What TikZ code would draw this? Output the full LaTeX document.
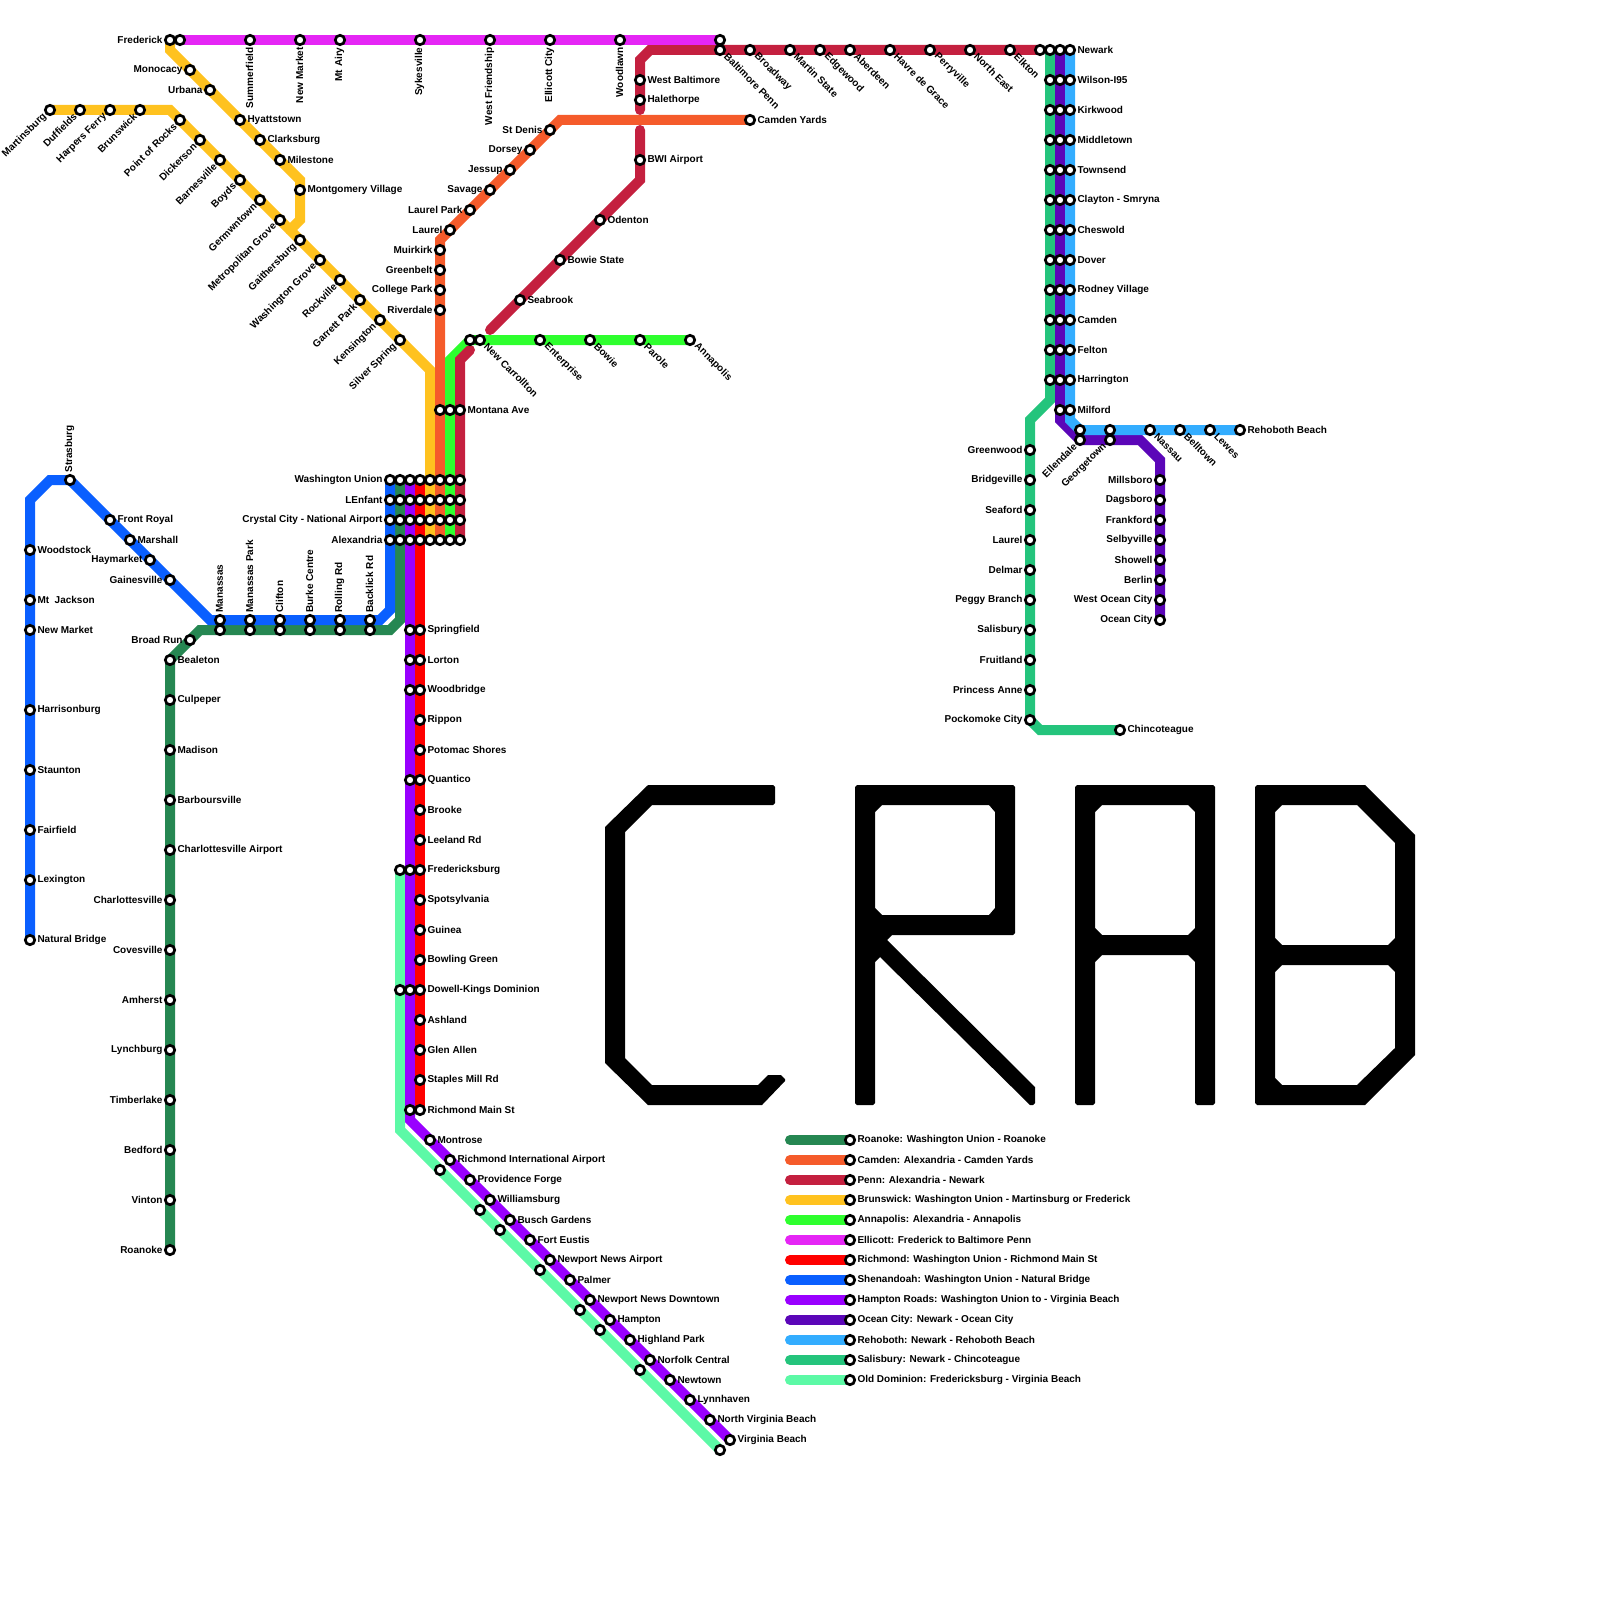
\documentclass[tikz,border=0pt]{standalone}
\usepackage{fontspec}
\setmainfont{Liberation Sans}
\pgfdeclarelayer{lines}
\pgfsetlayers{lines,main}
\definecolor{cRoanoke}{HTML}{268752}
\definecolor{cCamden}{HTML}{F55B2B}
\definecolor{cPenn}{HTML}{C4203F}
\definecolor{cBrunswick}{HTML}{FFC21F}
\definecolor{cAnnapolis}{HTML}{2EFF2E}
\definecolor{cEllicott}{HTML}{E526F5}
\definecolor{cRichmond}{HTML}{FF0000}
\definecolor{cShenandoah}{HTML}{0A5FFF}
\definecolor{cHampton}{HTML}{9900FF}
\definecolor{cOcean}{HTML}{5B06B8}
\definecolor{cRehoboth}{HTML}{33ADFF}
\definecolor{cSalisbury}{HTML}{24C47C}
\definecolor{cOldDom}{HTML}{5CF9A6}
\tikzset{
  stn/.style={circle,draw=black,fill=white,line width=2.7pt,minimum size=9.4pt,inner sep=0pt,outer sep=0pt},
  lbl/.style={inner sep=0pt,outer sep=0pt,font=\fontsize{10}{12}\selectfont\bfseries,text=black},
  rail/.style={line width=10pt,line cap=round,line join=miter},
  letter/.style={fill=black,even odd rule}
}
\newcommand\StnP[3]{\node[stn] (#1) at (#2,#3) {};}
\newcommand\StnR[4]{\StnP{#1}{#2}{#3}\node[lbl,anchor=west] (#1l) at ([xshift=7.5pt,yshift=0pt]#1.center) {#4};}
\newcommand\StnL[4]{\StnP{#1}{#2}{#3}\node[lbl,anchor=east] (#1l) at ([xshift=-7.5pt,yshift=0pt]#1.center) {#4};}
\newcommand\StnB[4]{\StnP{#1}{#2}{#3}\node[lbl,rotate=90,anchor=east] (#1l) at ([yshift=-7.5pt,xshift=-0.5pt]#1.center) {#4};}
\newcommand\StnT[4]{\StnP{#1}{#2}{#3}\node[lbl,rotate=90,anchor=west] (#1l) at ([yshift=7.5pt,xshift=-0.5pt]#1.center) {#4};}
\newcommand\StnD[4]{\StnP{#1}{#2}{#3}\node[lbl,rotate=-45,anchor=west] (#1l) at ([xshift=6pt,yshift=-5pt]#1.center) {#4};}
\newcommand\StnU[4]{\StnP{#1}{#2}{#3}\node[lbl,rotate=45,anchor=east] (#1l) at ([xshift=-5pt,yshift=-5pt]#1.center) {#4};}
\begin{document}
\begin{tikzpicture}[x=1pt,y=-1pt]
\useasboundingbox (0,0) rectangle (1600,1600);
% ---- Washington hub
\foreach \n/\y in {a/480,b/500,c/520,d/540}{
  \StnP{sh\n}{390}{\y}\StnP{ro\n}{400}{\y}\StnP{ha\n}{410}{\y}\StnP{ri\n}{420}{\y}
  \StnP{br\n}{430}{\y}\StnP{ca\n}{440}{\y}\StnP{an\n}{450}{\y}\StnP{pe\n}{460}{\y}
}
\node[lbl,anchor=east] (washl) at (382.5,480) {Washington Union};
\node[lbl,anchor=east] (lenl) at (382.5,500) {LEnfant};
\node[lbl,anchor=east] (crysl) at (382.5,520) {Crystal City - National Airport};
\node[lbl,anchor=east] (alexl) at (382.5,540) {Alexandria};
% ---- Shenandoah
\StnT{strasburg}{70}{480}{Strasburg}
\StnR{frontroyal}{110}{520}{Front Royal}
\StnR{marshall}{130}{540}{Marshall}
\StnL{haymarket}{150}{560}{Haymarket}
\StnL{gainesville}{170}{580}{Gainesville}
\StnR{woodstock}{30}{550}{Woodstock}
\StnR{mtjackson}{30}{600}{Mt\ \ Jackson}
\StnR{newmarketb}{30}{630}{New Market}
\StnR{harrisonburg}{30}{710}{Harrisonburg}
\StnR{staunton}{30}{770}{Staunton}
\StnR{fairfield}{30}{830}{Fairfield}
\StnR{lexington}{30}{880}{Lexington}
\StnR{naturalbridge}{30}{940}{Natural Bridge}
\StnT{manassas}{220}{620}{Manassas}
\StnT{manassaspark}{250}{620}{Manassas Park}
\StnT{clifton}{280}{620}{Clifton}
\StnT{burke}{310}{620}{Burke Centre}
\StnT{rolling}{340}{620}{Rolling Rd}
\StnT{backlick}{370}{620}{Backlick Rd}
% ---- Roanoke
\StnP{manassasg}{220}{630}\StnP{manassasparkg}{250}{630}\StnP{cliftong}{280}{630}
\StnP{burkeg}{310}{630}\StnP{rollingg}{340}{630}\StnP{backlickg}{370}{630}
\StnL{broadrun}{190}{640}{Broad Run}
\StnR{bealeton}{170}{660}{Bealeton}
\StnR{culpeper}{170}{700}{Culpeper}
\StnR{madison}{170}{750}{Madison}
\StnR{barboursville}{170}{800}{Barboursville}
\StnR{charlair}{170}{850}{Charlottesville Airport}
\StnL{charlottesville}{170}{900}{Charlottesville}
\StnL{covesville}{170}{950}{Covesville}
\StnL{amherst}{170}{1000}{Amherst}
\StnL{lynchburg}{170}{1050}{Lynchburg}
\StnL{timberlake}{170}{1100}{Timberlake}
\StnL{bedford}{170}{1150}{Bedford}
\StnL{vinton}{170}{1200}{Vinton}
\StnL{roanoke}{170}{1250}{Roanoke}
% ---- Brunswick
\StnU{martinsburg}{50}{110}{Martinsburg}
\StnU{duffields}{80}{110}{Duffields}
\StnU{harpers}{110}{110}{Harpers Ferry}
\StnU{brunswick}{140}{110}{Brunswick}
\StnU{pointrocks}{180}{120}{Point of Rocks}
\StnU{dickerson}{200}{140}{Dickerson}
\StnU{barnesville}{220}{160}{Barnesville}
\StnU{boyds}{240}{180}{Boyds}
\StnU{germwntown}{260}{200}{Germwntown}
\StnU{metrogrove}{280}{220}{Metropolitan Grove}
\StnU{gaithersburg}{300}{240}{Gaithersburg}
\StnU{washgrove}{320}{260}{Washington Grove}
\StnU{rockville}{340}{280}{Rockville}
\StnU{garrett}{360}{300}{Garrett Park}
\StnU{kensington}{380}{320}{Kensington}
\StnU{silverspring}{400}{340}{Silver Spring}
\StnL{frederick}{170}{40}{Frederick}
\StnL{monocacy}{190}{70}{Monocacy}
\StnL{urbana}{210}{90}{Urbana}
\StnR{hyattstown}{240}{120}{Hyattstown}
\StnR{clarksburg}{260}{140}{Clarksburg}
\StnR{milestone}{280}{160}{Milestone}
\StnR{montgomery}{300}{190}{Montgomery Village}
% ---- Ellicott
\StnP{frederickb}{180}{40}
\StnB{summerfield}{250}{40}{Summerfield}
\StnB{newmarket}{300}{40}{New Market}
\StnB{mtairy}{340}{40}{Mt Airy}
\StnB{sykesville}{420}{40}{Sykesville}
\StnB{westfriend}{490}{40}{West Friendship}
\StnB{ellicott}{550}{40}{Ellicott City}
\StnB{woodlawn}{620}{40}{Woodlawn}
\StnP{baltpennb}{720}{40}
% ---- Penn
\StnD{baltpenn}{720}{50}{Baltimore Penn}
\StnD{broadway}{750}{50}{Broadway}
\StnD{martinstate}{790}{50}{Martin State}
\StnD{edgewood}{820}{50}{Edgewood}
\StnD{aberdeen}{850}{50}{Aberdeen}
\StnD{havre}{890}{50}{Havre de Grace}
\StnD{perryville}{930}{50}{Perryville}
\StnD{northeast}{970}{50}{North East}
\StnD{elkton}{1010}{50}{Elkton}
\StnP{newarkp}{1040}{50}
\StnR{westbalt}{640}{80}{West Baltimore}
\StnR{halethorpe}{640}{100}{Halethorpe}
\StnR{bwi}{640}{160}{BWI Airport}
\StnR{odenton}{600}{220}{Odenton}
\StnR{bowiestate}{560}{260}{Bowie State}
\StnR{seabrook}{520}{300}{Seabrook}
\StnR{montana}{460}{410}{Montana Ave}
\StnP{montanag}{450}{410}\StnP{montanao}{440}{410}
% ---- Camden
\StnR{camdenyards}{750}{120}{Camden Yards}
\StnL{stdenis}{550}{130}{St Denis}
\StnL{dorsey}{530}{150}{Dorsey}
\StnL{jessup}{510}{170}{Jessup}
\StnL{savage}{490}{190}{Savage}
\StnL{laurelpark}{470}{210}{Laurel Park}
\StnL{laurelc}{450}{230}{Laurel}
\StnL{muirkirk}{440}{250}{Muirkirk}
\StnL{greenbelt}{440}{270}{Greenbelt}
\StnL{collegepark}{440}{290}{College Park}
\StnL{riverdale}{440}{310}{Riverdale}
% ---- Annapolis
\StnP{carrollton}{470}{340}
\StnD{carrolltonb}{480}{340}{New Carrollton}
\StnD{enterprise}{540}{340}{Enterprise}
\StnD{bowie}{590}{340}{Bowie}
\StnD{parole}{640}{340}{Parole}
\StnD{annapolis}{690}{340}{Annapolis}
% ---- Richmond / Hampton Roads
\StnR{springfield}{420}{630}{Springfield}
\StnR{lorton}{420}{660}{Lorton}
\StnR{woodbridge}{420}{690}{Woodbridge}
\StnR{rippon}{420}{720}{Rippon}
\StnR{potomac}{420}{750}{Potomac Shores}
\StnR{quantico}{420}{780}{Quantico}
\StnR{brooke}{420}{810}{Brooke}
\StnR{leeland}{420}{840}{Leeland Rd}
\StnR{fredericksburg}{420}{870}{Fredericksburg}
\StnR{spotsylvania}{420}{900}{Spotsylvania}
\StnR{guinea}{420}{930}{Guinea}
\StnR{bowling}{420}{960}{Bowling Green}
\StnR{dowell}{420}{990}{Dowell-Kings Dominion}
\StnR{ashland}{420}{1020}{Ashland}
\StnR{glenallen}{420}{1050}{Glen Allen}
\StnR{staples}{420}{1080}{Staples Mill Rd}
\StnR{richmain}{420}{1110}{Richmond Main St}
\StnP{springfieldh}{410}{630}\StnP{lortonh}{410}{660}\StnP{woodbridgeh}{410}{690}
\StnP{quanticoh}{410}{780}\StnP{fredh}{410}{870}\StnP{dowellh}{410}{990}\StnP{richmainh}{410}{1110}
\StnP{fredo}{400}{870}\StnP{dowello}{400}{990}
\StnR{montrose}{430}{1140}{Montrose}
\StnR{richair}{450}{1160}{Richmond International Airport}
\StnR{providence}{470}{1180}{Providence Forge}
\StnR{williamsburg}{490}{1200}{Williamsburg}
\StnR{busch}{510}{1220}{Busch Gardens}
\StnR{forteustis}{530}{1240}{Fort Eustis}
\StnR{nnairport}{550}{1260}{Newport News Airport}
\StnR{palmer}{570}{1280}{Palmer}
\StnR{nndown}{590}{1300}{Newport News Downtown}
\StnR{hampton}{610}{1320}{Hampton}
\StnR{highland}{630}{1340}{Highland Park}
\StnR{norfolk}{650}{1360}{Norfolk Central}
\StnR{newtown}{670}{1380}{Newtown}
\StnR{lynnhaven}{690}{1400}{Lynnhaven}
\StnR{northvb}{710}{1420}{North Virginia Beach}
\StnR{virginiabeach}{730}{1440}{Virginia Beach}
\StnP{od1}{440}{1170}\StnP{od2}{480}{1210}\StnP{od3}{500}{1230}\StnP{od4}{540}{1270}
\StnP{od5}{580}{1310}\StnP{od6}{600}{1330}\StnP{od7}{640}{1370}\StnP{od8}{720}{1450}
% ---- Delaware trunk
\foreach \i/\y/\t in {a/50/Newark,b/80/Wilson-I95,c/110/Kirkwood,d/140/Middletown,e/170/Townsend,f/200/Clayton - Smryna,g/230/Cheswold,h/260/Dover,i/290/Rodney Village,j/320/Camden,k/350/Felton,l/380/Harrington}{
  \StnP{sa\i}{1050}{\y}\StnP{oc\i}{1060}{\y}\StnR{re\i}{1070}{\y}{\t}
}
\StnP{ocm}{1060}{410}\StnR{rem}{1070}{410}{Milford}
\StnP{ellr}{1080}{430}\StnU{ello}{1080}{440}{Ellendale}
\StnP{geor}{1110}{430}\StnU{geoo}{1110}{440}{Georgetown}
\StnD{nassau}{1150}{430}{Nassau}
\StnD{belltown}{1180}{430}{Belltown}
\StnD{lewes}{1210}{430}{Lewes}
\StnR{rehoboth}{1240}{430}{Rehoboth Beach}
\StnL{millsboro}{1160}{480}{Millsboro}
\StnL{dagsboro}{1160}{500}{Dagsboro}
\StnL{frankford}{1160}{520}{Frankford}
\StnL{selbyville}{1160}{540}{Selbyville}
\StnL{showell}{1160}{560}{Showell}
\StnL{berlin}{1160}{580}{Berlin}
\StnL{westocean}{1160}{600}{West Ocean City}
\StnL{oceancity}{1160}{620}{Ocean City}
\StnL{greenwood}{1030}{450}{Greenwood}
\StnL{bridgeville}{1030}{480}{Bridgeville}
\StnL{seaford}{1030}{510}{Seaford}
\StnL{laurels}{1030}{540}{Laurel}
\StnL{delmar}{1030}{570}{Delmar}
\StnL{peggy}{1030}{600}{Peggy Branch}
\StnL{salisbury}{1030}{630}{Salisbury}
\StnL{fruitland}{1030}{660}{Fruitland}
\StnL{princess}{1030}{690}{Princess Anne}
\StnL{pockomoke}{1030}{720}{Pockomoke City}
\StnR{chincoteague}{1120}{730}{Chincoteague}
% ---- Legend
\foreach \k/\y/\t in {
 1/1140/Roanoke: Washington Union - Roanoke,
 2/1160/Camden: Alexandria - Camden Yards,
 3/1180/Penn: Alexandria - Newark,
 4/1200/Brunswick: Washington Union - Martinsburg or Frederick,
 5/1220/Annapolis: Alexandria - Annapolis,
 6/1240/Ellicott: Frederick to Baltimore Penn,
 7/1260/Richmond: Washington Union - Richmond Main St,
 8/1280/Shenandoah: Washington Union - Natural Bridge,
 9/1300/Hampton Roads: Washington Union to - Virginia Beach,
 10/1320/Ocean City: Newark - Ocean City,
 11/1340/Rehoboth: Newark - Rehoboth Beach,
 12/1360/Salisbury: Newark - Chincoteague,
 13/1380/Old Dominion: Fredericksburg - Virginia Beach}{
  \StnR{leg\k}{850}{\y}{\t}
  \coordinate (legs\k) at (790,\y);
}
% ---- bend points
\coordinate (b1) at (30,500);\coordinate (b2) at (50,480);\coordinate (b3) at (210,620);
\coordinate (b4) at (380,620);\coordinate (b5) at (390,610);
\coordinate (g1) at (400,620);\coordinate (g2) at (390,630);\coordinate (g3) at (200,630);
\coordinate (y1) at (430,370);\coordinate (y2) at (170,110);
\coordinate (y3) at (170,50);\coordinate (y4) at (300,180);\coordinate (y5) at (300,220);\coordinate (y6) at (290,230);
\coordinate (o1) at (440,240);\coordinate (o2) at (560,120);
\coordinate (n1) at (450,360);
\coordinate (p1) at (460,360);\coordinate (p2) at (470,350);\coordinate (p3) at (490,330);
\coordinate (p4) at (640,180);\coordinate (p5) at (640,130);\coordinate (p6) at (640,110);
\coordinate (p7) at (640,60);\coordinate (p8) at (650,50);
\coordinate (h1) at (410,1120);\coordinate (d1) at (400,1130);
\coordinate (s1) at (1050,400);\coordinate (s2) at (1030,420);\coordinate (s3) at (1040,730);
\coordinate (c1) at (1060,420);\coordinate (c2) at (1140,440);\coordinate (c3) at (1160,460);
\coordinate (r1) at (1070,420);
\begin{pgfonlayer}{lines}
\draw[rail,cOldDom] (fredo.center) -- (d1) -- (od8.center);
\draw[rail,cRoanoke] (roa.center) -- (g1) -- (g2) -- (g3) -- (bealeton.center) -- (roanoke.center);
\draw[rail,cShenandoah] (sha.center) -- (b5) -- (b4) -- (b3) -- (strasburg.center) -- (b2) -- (b1) -- (naturalbridge.center);
\draw[rail,cHampton] (haa.center) -- (h1) -- (virginiabeach.center);
\draw[rail,cRichmond] (ria.center) -- (richmain.center);
\draw[rail,cBrunswick] (brd.center) -- (y1) -- (y2) -- (martinsburg.center);
\draw[rail,cBrunswick] (frederick.center) -- (y3) -- (y4) -- (y5) -- (y6);
\draw[rail,cCamden] (cad.center) -- (o1) -- (o2) -- (camdenyards.center);
\draw[rail,cAnnapolis] (and.center) -- (n1) -- (carrollton.center) -- (annapolis.center);
\draw[rail,cPenn] (ped.center) -- (p1) -- (p2);
\draw[rail,cPenn] (p3) -- (p4) -- (p5);
\draw[rail,cPenn] (p6) -- (p7) -- (p8) -- (newarkp.center);
\draw[rail,cEllicott] (frederickb.center) -- (baltpennb.center);
\draw[rail,cSalisbury] (saa.center) -- (s1) -- (s2) -- (pockomoke.center) -- (s3) -- (chincoteague.center);
\draw[rail,cOcean] (oca.center) -- (c1) -- (ello.center) -- (c2) -- (c3) -- (oceancity.center);
\draw[rail,cRehoboth] (rea.center) -- (r1) -- (ellr.center) -- (rehoboth.center);
\draw[rail,cRoanoke] (legs1) -- (leg1.center);
\draw[rail,cCamden] (legs2) -- (leg2.center);
\draw[rail,cPenn] (legs3) -- (leg3.center);
\draw[rail,cBrunswick] (legs4) -- (leg4.center);
\draw[rail,cAnnapolis] (legs5) -- (leg5.center);
\draw[rail,cEllicott] (legs6) -- (leg6.center);
\draw[rail,cRichmond] (legs7) -- (leg7.center);
\draw[rail,cShenandoah] (legs8) -- (leg8.center);
\draw[rail,cHampton] (legs9) -- (leg9.center);
\draw[rail,cOcean] (legs10) -- (leg10.center);
\draw[rail,cRehoboth] (legs11) -- (leg11.center);
\draw[rail,cSalisbury] (legs12) -- (leg12.center);
\draw[rail,cOldDom] (legs13) -- (leg13.center);
\end{pgfonlayer}
% ---- CRAB lettering
\fill[letter] (648,785) -- (773,785) -- (775,787) -- (775,803) -- (773,805) -- (652,805) -- (625,832) -- (625,1058) -- (652,1085) -- (758,1085) -- (768,1075) -- (781,1075) -- (785,1079) -- (785,1081) -- (762,1105) -- (648,1105) -- (605,1063) -- (605,827) -- cycle;
\fill[letter] (855,787) -- (857,785) -- (1013,785) -- (1015,787) -- (1015,933) -- (1013,935) -- (892,935) -- (887,940) -- (1035,1087) -- (1035,1103) -- (1033,1105) -- (1030,1105) -- (880,957) -- (875,962) -- (875,1103) -- (873,1105) -- (857,1105) -- (855,1103) -- cycle
  (875,812) -- (882,805) -- (989,805) -- (995,812) -- (995,908) -- (989,915) -- (882,915) -- (875,908) -- cycle;
\fill[letter] (1075,787) -- (1077,785) -- (1213,785) -- (1215,787) -- (1215,1103) -- (1213,1105) -- (1197,1105) -- (1195,1103) -- (1195,962) -- (1188,955) -- (1102,955) -- (1095,962) -- (1095,1103) -- (1093,1105) -- (1077,1105) -- (1075,1103) -- cycle
  (1095,812) -- (1102,805) -- (1188,805) -- (1195,812) -- (1195,928) -- (1188,935) -- (1102,935) -- (1095,928) -- cycle;
\fill[letter] (1255,787) -- (1257,785) -- (1365,785) -- (1415,835) -- (1415,1055) -- (1365,1105) -- (1257,1105) -- (1255,1103) -- cycle
  (1275,812) -- (1282,805) -- (1357,805) -- (1395,843) -- (1395,938) -- (1388,945) -- (1282,945) -- (1275,938) -- cycle
  (1275,972) -- (1282,965) -- (1388,965) -- (1395,972) -- (1395,1048) -- (1357,1085) -- (1282,1085) -- (1275,1078) -- cycle;
\end{tikzpicture}
\end{document}
